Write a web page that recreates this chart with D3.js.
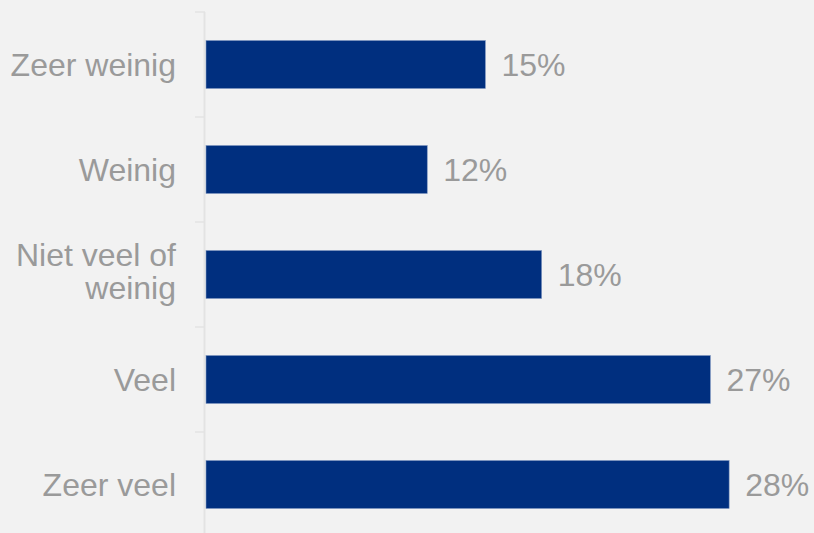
<!DOCTYPE html>
<html>
<head>
<meta charset="utf-8">
<script src="https://cdn.jsdelivr.net/npm/d3@7"></script>
<style>
html, body { margin: 0; padding: 0; background: #f2f2f2; }
svg { display: block; }
</style>
</head>
<body>
<svg id="chart" width="814" height="533"></svg>
<script>
const categories = ["Zeer weinig", "Weinig", "Niet veel of weinig", "Veel", "Zeer veel"];
const categoryLines = [["Zeer weinig"], ["Weinig"], ["Niet veel of", "weinig"], ["Veel"], ["Zeer veel"]];
const values = [14.9, 11.8, 17.9, 26.9, 27.9];
const valueLabels = ["15%", "12%", "18%", "27%", "28%"];

const W = 814, H = 533;
const svg = d3.select("#chart");
svg.append("rect").attr("width", W).attr("height", H).attr("fill", "#f2f2f2");

const x0 = 205;
const x = d3.scaleLinear().domain([0, 28]).range([x0, x0 + 525]);
const y = d3.scaleBand().domain(categories).range([12, 537]).paddingInner(0.543).paddingOuter(0.2715);

const font = "'Liberation Sans', Arial, sans-serif";
const textColor = "#9a9a9a";
const fs = 32;

// axis line
svg.append("line")
  .attr("x1", x0 - 0.5).attr("x2", x0 - 0.5)
  .attr("y1", 12).attr("y2", H)
  .attr("stroke", "#e3e3e3").attr("stroke-width", 2);

// tick marks at category boundaries
const step = y.step();
const boundaries = d3.range(categories.length + 1).map(i => 12 + i * step);
svg.selectAll("line.tick").data(boundaries).enter().append("line")
  .attr("class", "tick")
  .attr("x1", 195).attr("x2", x0)
  .attr("y1", d => d).attr("y2", d => d)
  .attr("stroke", "#e3e3e3").attr("stroke-width", 1.5);

// bars
svg.selectAll("rect.bar").data(values).enter().append("rect")
  .attr("class", "bar")
  .attr("x", x(0) + 1)
  .attr("y", (d, i) => y(categories[i]))
  .attr("width", d => x(d) - x(0))
  .attr("height", y.bandwidth())
  .attr("fill", "#002f7f")
  .attr("stroke", "#7f97c0").attr("stroke-width", 0.6);

// value labels
svg.selectAll("text.val").data(values).enter().append("text")
  .attr("class", "val")
  .attr("x", d => x(d) + 17)
  .attr("y", (d, i) => y(categories[i]) + y.bandwidth() / 2 + 11.5)
  .attr("font-family", font).attr("font-size", fs)
  .attr("fill", textColor)
  .text((d, i) => valueLabels[i]);

// category labels
const lh = 33;
categoryLines.forEach((lines, i) => {
  const cy = y(categories[i]) + y.bandwidth() / 2;
  const t = svg.append("text")
    .attr("text-anchor", "end")
    .attr("font-family", font).attr("font-size", fs)
    .attr("fill", textColor);
  lines.forEach((ln, j) => {
    t.append("tspan")
      .attr("x", 176)
      .attr("y", cy + 11.5 - (lines.length - 1) * lh / 2 + j * lh - (lines.length > 1 ? 3.5 : 0))
      .text(ln);
  });
});
</script>
</body>
</html>
